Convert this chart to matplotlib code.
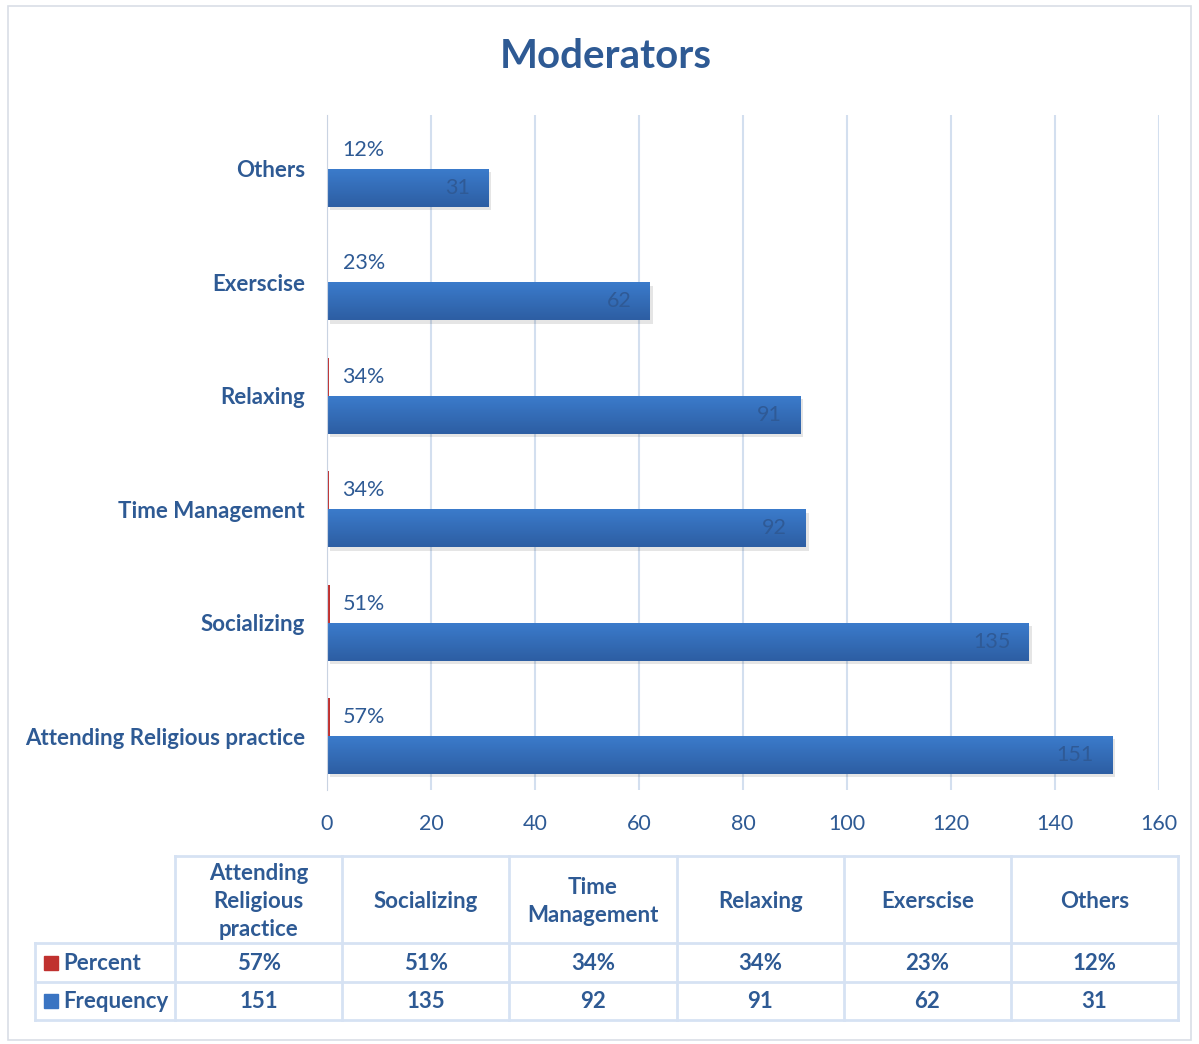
import numpy as np
import matplotlib.pyplot as plt
from matplotlib.patches import Rectangle
from matplotlib.colors import LinearSegmentedColormap

# data
categories = ['Attending Religious practice', 'Socializing', 'Time Management',
              'Relaxing', 'Exerscise', 'Others']
table_headers = ['Attending\nReligious\npractice', 'Socializing', 'Time\nManagement',
                 'Relaxing', 'Exerscise', 'Others']
frequency = [151, 135, 92, 91, 62, 31]
percent = [0.57, 0.51, 0.34, 0.34, 0.23, 0.12]
percent_labels = ['57%', '51%', '34%', '34%', '23%', '12%']
xticks = [0, 20, 40, 60, 80, 100, 120, 140, 160]

plt.rcParams['font.family'] = ['Lato', 'DejaVu Sans']
txt = '#2E5A94'
blue = '#3A74C2'
red = '#C0312F'
grid = '#D3DFEF'

W, H = 1199, 1044
fig = plt.figure(figsize=(W / 100, H / 100), dpi=100)

# outer frame
fig.patches.append(Rectangle((8 / W, 4 / H), 1183 / W, 1034 / H, transform=fig.transFigure,
                             fill=False, edgecolor='#D9DEE6', lw=1.2))

fig.text(606 / W, 1 - 57 / H, 'Moderators', ha='center', va='center',
         fontsize=29, fontweight='bold', color=txt)

ax = fig.add_axes([327 / W, 1 - 790 / H, 832 / W, 675 / H])
y = np.arange(len(categories))
h = 0.335
fb = ax.barh(y - h / 2, frequency, height=h, color=blue, zorder=3)
pb = ax.barh(y + h / 2, percent, height=h, color=red, zorder=3)

# gradient + shadow on frequency bars
grad = np.linspace(0, 1, 50).reshape(-1, 1)
cmap = LinearSegmentedColormap.from_list('g', ['#3B7BCB', '#2D5EA3'])
for b in fb:
    x0, y0, w, hh = b.get_x(), b.get_y(), b.get_width(), b.get_height()
    ax.add_patch(Rectangle((x0 + 0.6, y0 - 0.03), w, hh, color='#000000', alpha=0.10, zorder=2, lw=0))
    ax.imshow(grad, extent=[x0, x0 + w, y0, y0 + hh], cmap=cmap, aspect='auto', zorder=3.5,
              origin='upper')

for i in range(len(categories)):
    ax.text(frequency[i] - 3.5, y[i] - h / 2, str(frequency[i]), ha='right', va='center',
            fontsize=15.5, color='#2F5A96', zorder=5)
    ax.text(3, y[i] + h / 2, percent_labels[i], ha='left', va='center',
            fontsize=15.5, color=txt, zorder=5)

ax.set_xlim(0, 160)
ax.set_ylim(-0.476, len(categories) - 1 + 0.476)
ax.set_xticks(xticks)
ax.set_yticks(y)
ax.set_yticklabels(categories, fontsize=16, fontweight='bold', color=txt)
ax.tick_params(axis='x', colors=txt, labelsize=15.5, length=0, pad=17)
ax.tick_params(axis='y', length=0, pad=16)
ax.xaxis.grid(True, color=grid, lw=1.5, zorder=0)
for s in ['top', 'right', 'bottom']:
    ax.spines[s].set_visible(False)
ax.spines['left'].set_color('#C9D3E2')
ax.spines['left'].set_zorder(6)
ax.set_facecolor('none')

# data table
tax = fig.add_axes([0, 0, 1, 1])
tax.set_xlim(0, W)
tax.set_ylim(H, 0)
tax.axis('off')
col_x = [175 + 167.2 * k for k in range(7)]
line_c = '#D6E2F3'
lw = 2
hdr_top, hdr_bot, r1_bot, r2_bot = 856, 943, 982, 1020
tax.plot([col_x[0], col_x[-1]], [hdr_top, hdr_top], color=line_c, lw=lw)
tax.plot([35, col_x[-1]], [hdr_bot, hdr_bot], color=line_c, lw=lw)
tax.plot([35, col_x[-1]], [r1_bot, r1_bot], color=line_c, lw=lw)
tax.plot([35, col_x[-1]], [r2_bot, r2_bot], color=line_c, lw=lw)
for cx in col_x:
    tax.plot([cx, cx], [hdr_top, r2_bot], color=line_c, lw=lw)
tax.plot([35, 35], [hdr_bot, r2_bot], color=line_c, lw=lw)
for k in range(6):
    cx = (col_x[k] + col_x[k + 1]) / 2
    tax.text(cx, (hdr_top + hdr_bot) / 2 + 2, table_headers[k], ha='center', va='center',
             fontsize=16, fontweight='bold', color=txt, linespacing=1.4)
    tax.text(cx, (hdr_bot + r1_bot) / 2 + 1, percent_labels[k], ha='center', va='center',
             fontsize=16, fontweight='bold', color=txt)
    tax.text(cx, (r1_bot + r2_bot) / 2 + 1, str(frequency[k]), ha='center', va='center',
             fontsize=16, fontweight='bold', color=txt)
for row_c, row_y, name in [(red, (hdr_bot + r1_bot) / 2, 'Percent'),
                           (blue, (r1_bot + r2_bot) / 2, 'Frequency')]:
    tax.add_patch(Rectangle((44, row_y - 7), 14, 14, color=row_c))
    tax.text(63, row_y + 1, name, ha='left', va='center', fontsize=16, fontweight='bold', color=txt)

fig.savefig('out.png', dpi=100)
